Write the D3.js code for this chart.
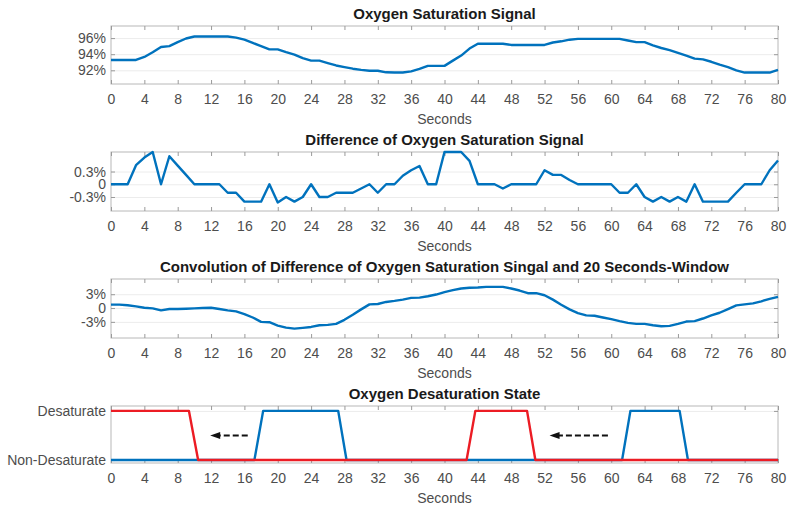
<!DOCTYPE html>
<html>
<head>
<meta charset="utf-8">
<script src="https://cdn.jsdelivr.net/npm/d3@7"></script>
<style>
  html, body { margin: 0; padding: 0; background: #fff; }
  svg { display: block; font-family: "Liberation Sans", Arial, Helvetica, sans-serif; }
</style>
</head>
<body>
<svg id="chart" width="787" height="510"></svg>
<script>
// Time axis (seconds)
const seconds = d3.range(0, 81);
const xTickValues = d3.range(0, 81, 4);

// SpO2 signal (%)
const spo2 = [93.28, 93.28, 93.28, 93.28, 93.66, 94.25, 94.9, 95.0, 95.5, 95.95,
  96.2, 96.2, 96.2, 96.2, 96.2, 96.05, 95.8, 95.4, 95.0, 94.6,
  94.6, 94.25, 93.95, 93.5, 93.2, 93.2, 92.9, 92.6, 92.4, 92.2,
  92.05, 91.95, 91.95, 91.75, 91.72, 91.72, 91.87, 92.17, 92.55, 92.55,
  92.55, 93.2, 93.83, 94.7, 95.3, 95.3, 95.3, 95.3, 95.15, 95.15,
  95.15, 95.15, 95.15, 95.45, 95.6, 95.8, 95.9, 95.9, 95.9, 95.9,
  95.9, 95.9, 95.7, 95.5, 95.5, 95.1, 94.77, 94.5, 94.17, 93.83,
  93.45, 93.36, 93.06, 92.7, 92.4, 92.0, 91.72, 91.72, 91.72, 91.72,
  92.05];

// First difference of the SpO2 signal (%)
const spo2Diff = [0, 0, 0, 0.45, 0.63, 0.76, 0, 0.66, 0.44, 0.22,
  0, 0, 0, 0, -0.2, -0.2, -0.41, -0.41, -0.41, 0,
  -0.43, -0.3, -0.41, -0.3, 0, -0.3, -0.3, -0.2, -0.2, -0.2,
  -0.1, 0, -0.2, 0, 0, 0.2, 0.33, 0.43, 0, 0,
  0.76, 0.76, 0.76, 0.55, 0, 0, 0, -0.1, 0, 0,
  0, 0, 0.33, 0.22, 0.22, 0.1, 0, 0, 0, 0,
  0, -0.2, -0.2, 0, -0.3, -0.41, -0.3, -0.41, -0.3, -0.41,
  0, -0.41, -0.41, -0.41, -0.41, -0.2, 0, 0, 0, 0.33,
  0.56];

// Difference convolved with a 20 s window (%)
const spo2Conv = [0.73, 0.73, 0.6, 0.37, 0.07, -0.07, -0.5, -0.22, -0.22, -0.15,
  -0.07, 0, 0.07, -0.22, -0.5, -0.73, -1.3, -2.05, -3.0, -3.07,
  -3.8, -4.24, -4.46, -4.3, -4.1, -3.73, -3.66, -3.44, -2.56, -1.46,
  -0.29, 0.8, 0.88, 1.32, 1.55, 1.83, 2.2, 2.27, 2.56, 2.93,
  3.44, 3.88, 4.24, 4.39, 4.45, 4.6, 4.6, 4.6, 4.24, 3.8,
  3.22, 3.22, 2.78, 1.83, 0.73, -0.29, -1.1, -1.6, -1.68, -2.05,
  -2.41, -2.85, -3.22, -3.44, -3.44, -3.73, -3.95, -3.88, -3.44, -2.93,
  -2.85, -2.27, -1.6, -1.02, -0.22, 0.58, 0.8, 1.02, 1.46, 1.98,
  2.41];

// Desaturation state: detected (blue) and shifted back in time (red)
const detectedTimes = [0, 17.2, 18.25, 27.25, 28.25, 61.3, 62.3, 68.2, 69.2, 80];
const detectedState = [0, 0, 1, 1, 0, 0, 1, 1, 0, 0];
const shiftedTimes = [0, 9.35, 10.45, 42.65, 43.7, 49.9, 50.9, 80];
const shiftedState = [1, 1, 0, 0, 1, 1, 0, 0];

// Shift arrows (start second, end second, state level)
const shiftArrowFrom = [16.4, 59.6];
const shiftArrowTo = [11.9, 52.6];
const shiftArrowLevel = [0.5, 0.5];

// Tick values and labels for each panel
const spo2Ticks = [92, 94, 96];
const spo2TickLabels = ["92%", "94%", "96%"];
const diffTicks = [-0.3, 0, 0.3];
const diffTickLabels = ["-0.3%", "0", "0.3%"];
const convTicks = [-3, 0, 3];
const convTickLabels = ["-3%", "0", "3%"];
const stateTicks = [0, 1];
const stateTickLabels = ["Non-Desaturate", "Desaturate"];

const titles = [
  "Oxygen Saturation Signal",
  "Difference of Oxygen Saturation Signal",
  "Convolution of Difference of Oxygen Saturation Singal and 20 Seconds-Window",
  "Oxygen Desaturation State"
];

const BLUE = "#0072bd";
const RED = "#ec1c24";
const left = 111, right = 778;

const svg = d3.select("#chart");
const x = d3.scaleLinear().domain([0, 80]).range([left, right]);

const panels = [
  { top: 26, bottom: 84, domain: [90.3, 97.5], ticks: spo2Ticks, labels: spo2TickLabels, title: titles[0] },
  { top: 152, bottom: 211, domain: [-0.63, 0.76], ticks: diffTicks, labels: diffTickLabels, title: titles[1] },
  { top: 279, bottom: 338, domain: [-6.5, 6.3], ticks: convTicks, labels: convTickLabels, title: titles[2] },
  { top: 406, bottom: 463, domain: [-0.06, 1.1], ticks: stateTicks, labels: stateTickLabels, title: titles[3] }
];

function styleAxis(sel, withText) {
  sel.select(".domain").remove();
  sel.selectAll(".tick line").attr("stroke", "#9a9a9a").attr("stroke-width", 1);
  if (withText) {
    sel.selectAll(".tick text").attr("fill", "#4d4d4d").style("font-size", "14px")
      .style("font-family", "\"Liberation Sans\", Arial, Helvetica, sans-serif");
  } else {
    sel.selectAll(".tick text").remove();
  }
}

function drawPanel(p) {
  const g = svg.append("g");
  const y = d3.scaleLinear().domain(p.domain).range([p.bottom, p.top]);

  // light horizontal grid at the y ticks
  g.append("g")
    .attr("transform", `translate(${left},0)`)
    .call(d3.axisLeft(y).tickValues(p.ticks).tickSize(-(right - left)).tickFormat(""))
    .call(s => {
      s.select(".domain").remove();
      s.selectAll(".tick line").attr("stroke", "#ececec").attr("stroke-width", 1);
    });

  // box
  g.append("rect")
    .attr("x", left).attr("y", p.top)
    .attr("width", right - left).attr("height", p.bottom - p.top)
    .attr("fill", "none").attr("stroke", "#b8b8b8").attr("stroke-width", 1);

  // axes with inward ticks on all four sides
  g.append("g").attr("transform", `translate(0,${p.bottom})`)
    .call(d3.axisBottom(x).tickValues(xTickValues).tickSizeInner(-4).tickSizeOuter(0).tickPadding(10))
    .call(s => styleAxis(s, true));
  g.append("g").attr("transform", `translate(0,${p.top})`)
    .call(d3.axisTop(x).tickValues(xTickValues).tickSizeInner(-4).tickSizeOuter(0))
    .call(s => styleAxis(s, false));
  g.append("g").attr("transform", `translate(${left},0)`)
    .call(d3.axisLeft(y).tickValues(p.ticks).tickFormat((d, i) => p.labels[i]).tickSizeInner(-4).tickSizeOuter(0).tickPadding(5))
    .call(s => styleAxis(s, true));
  g.append("g").attr("transform", `translate(${right},0)`)
    .call(d3.axisRight(y).tickValues(p.ticks).tickSizeInner(-4).tickSizeOuter(0))
    .call(s => styleAxis(s, false));

  // title and x label
  g.append("text")
    .attr("x", (left + right) / 2).attr("y", p.top - 7)
    .attr("text-anchor", "middle")
    .style("font-size", "15px").style("font-weight", "bold").attr("fill", "#1a1a1a")
    .text(p.title);
  g.append("text")
    .attr("x", (left + right) / 2).attr("y", p.bottom + 40)
    .attr("text-anchor", "middle")
    .style("font-size", "14px").attr("fill", "#4d4d4d")
    .text("Seconds");

  return { g, y };
}

const p1 = drawPanel(panels[0]);
const p2 = drawPanel(panels[1]);
const p3 = drawPanel(panels[2]);
const p4 = drawPanel(panels[3]);

function plotLine(panel, xs, ys, color) {
  const line = d3.line().x((d, i) => x(xs[i])).y(d => panel.y(d));
  panel.g.append("path")
    .datum(ys)
    .attr("d", line)
    .attr("fill", "none")
    .attr("stroke", color)
    .attr("stroke-width", 2.4)
    .attr("stroke-linejoin", "round");
}

plotLine(p1, seconds, spo2, BLUE);
plotLine(p2, seconds, spo2Diff, BLUE);
plotLine(p3, seconds, spo2Conv, BLUE);
plotLine(p4, detectedTimes, detectedState, BLUE);
plotLine(p4, shiftedTimes, shiftedState, RED);

// dashed arrows showing the backward shift
shiftArrowFrom.forEach((from, i) => {
  const yy = p4.y(shiftArrowLevel[i]);
  const tip = x(shiftArrowTo[i]);
  p4.g.append("line")
    .attr("x1", x(from)).attr("x2", tip + 9)
    .attr("y1", yy).attr("y2", yy)
    .attr("stroke", "#111").attr("stroke-width", 2)
    .attr("stroke-dasharray", "6,3");
  p4.g.append("path")
    .attr("d", `M${tip},${yy} L${tip + 10},${yy - 3.5} L${tip + 10},${yy + 3.5} Z`)
    .attr("fill", "#111");
});
</script>
</body>
</html>
